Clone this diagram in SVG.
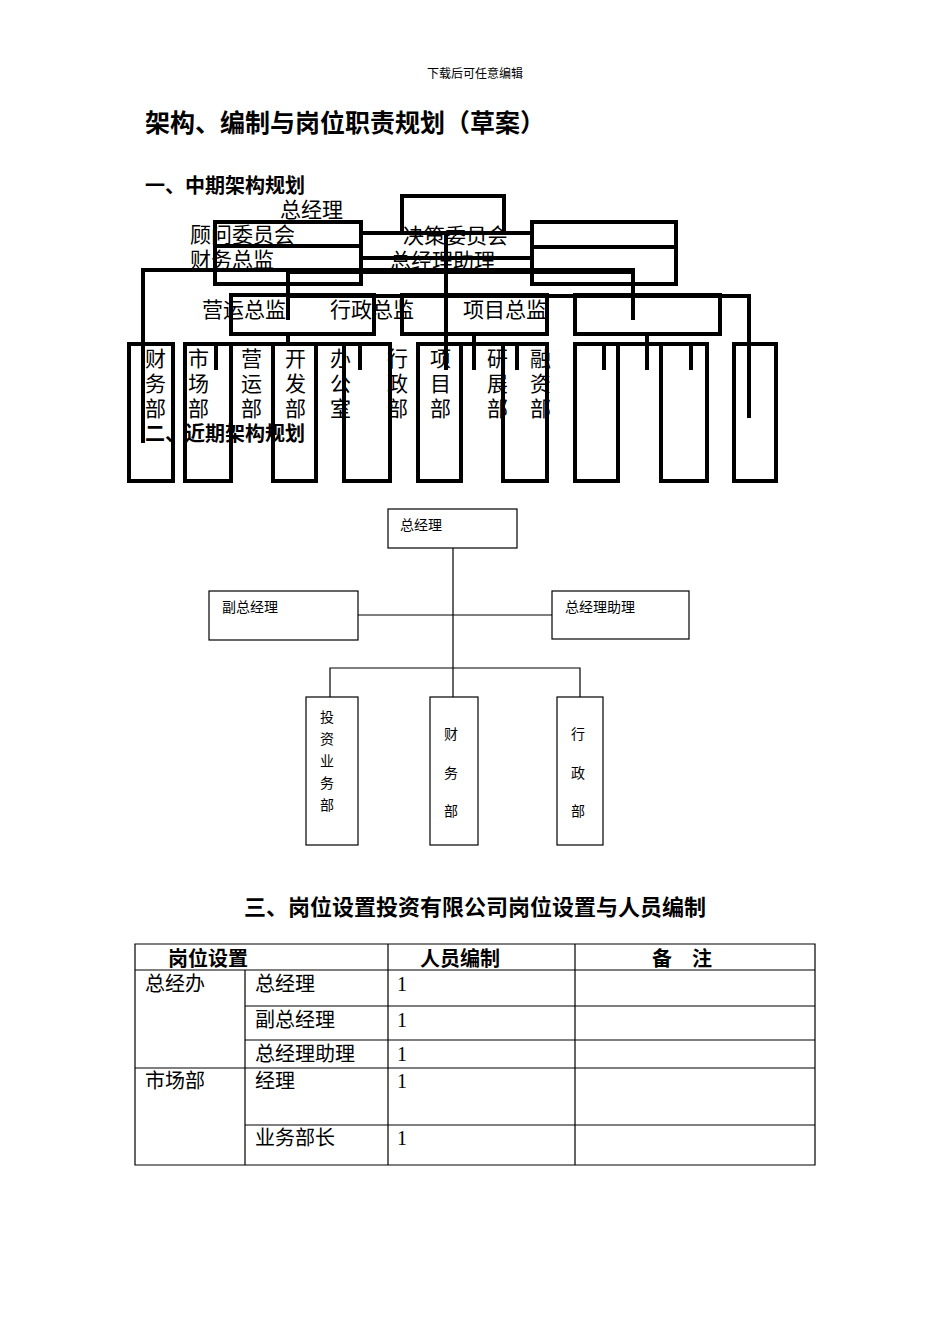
<svg xmlns="http://www.w3.org/2000/svg" width="950" height="1344" viewBox="0 0 950 1344">
<style>
text{font-family:"Liberation Serif","Noto Sans CJK SC",serif;fill:#000}
.b{font-weight:bold;font-family:"Liberation Sans","Noto Sans CJK SC",sans-serif}
.t{font-size:20px}
.m{font-size:21px}
.s{font-size:14px}
.k{fill:none;stroke:#000;stroke-width:4}
.n{fill:none;stroke:#000;stroke-width:1.2}
</style>
<rect width="950" height="1344" fill="#fff"/>
<text x="475" y="78" font-size="12" text-anchor="middle">下载后可任意编辑</text>
<text class="b" x="145" y="132" font-size="25">架构、编制与岗位职责规划（草案）</text>
<text class="b t" x="145" y="193">一、中期架构规划</text>
<g id="mid-connectors" class="k">
<path d="M361 233H532M361 258H532M446 233V370M143 443V270H633V320M288 320V272H633M288 296H749V418M288 334V346M474 334V370M647 334V370M185 344H390M418 344H547M575 344H707M216 344V370M360 344V370M517 344V370M604 344V370M691 344V370"/>
</g>
<g id="m-boxes" class="k">
<rect x="402" y="196" width="102" height="37"/>
<path d="M215 222H361V284H215ZM215 246H361"/>
<path d="M532 222H676V284H532ZM532 247H676"/>
<rect x="231" y="295" width="143" height="39"/>
<rect x="402" y="295" width="145" height="39"/>
<rect x="575" y="295" width="145" height="39"/>
<rect x="129" y="344" width="44" height="137"/>
<rect x="185" y="344" width="46" height="137"/>
<rect x="273" y="344" width="43" height="137"/>
<rect x="344" y="344" width="46" height="137"/>
<rect x="418" y="344" width="43" height="137"/>
<rect x="503" y="344" width="44" height="137"/>
<rect x="575" y="344" width="43" height="137"/>
<rect x="661" y="344" width="46" height="137"/>
<rect x="734" y="344" width="42" height="137"/>
</g>
<g id="m-labels" class="m">
<text x="280" y="217">总经理</text>
<text x="190" y="242">顾问委员会</text>
<text x="190" y="267">财务总监</text>
<text x="403" y="243">决策委员会</text>
<text x="390" y="268">总经理助理</text>
<text x="202" y="317">营运总监</text>
<text x="330" y="317">行政总监</text>
<text x="463" y="317">项目总监</text>
<text x="145" y="366">财</text><text x="145" y="391">务</text><text x="145" y="416">部</text>
<text x="188" y="366">市</text><text x="188" y="391">场</text><text x="188" y="416">部</text>
<text x="241" y="366">营</text><text x="241" y="391">运</text><text x="241" y="416">部</text>
<text x="285" y="366">开</text><text x="285" y="391">发</text><text x="285" y="416">部</text>
<text x="330" y="366">办</text><text x="330" y="391">公</text><text x="330" y="416">室</text>
<text x="387" y="366">行</text><text x="387" y="391">政</text><text x="387" y="416">部</text>
<text x="430" y="366">项</text><text x="430" y="391">目</text><text x="430" y="416">部</text>
<text x="487" y="366">研</text><text x="487" y="391">展</text><text x="487" y="416">部</text>
<text x="530" y="366">融</text><text x="530" y="391">资</text><text x="530" y="416">部</text>
</g>
<text class="b t" x="145" y="441">二、近期架构规划</text>
<g id="near-connectors" class="n">
<path d="M453 548V697M358 615H552M330 697V668H580V697"/>
</g>
<g id="n-gm"><rect class="n" x="388" y="509" width="129" height="39"/><text class="s" x="400" y="530">总经理</text></g>
<g id="n-vgm"><rect class="n" x="209" y="591" width="149" height="49"/><text class="s" x="222" y="612">副总经理</text></g>
<g id="n-asst"><rect class="n" x="552" y="591" width="137" height="48"/><text class="s" x="565" y="612">总经理助理</text></g>
<g id="n-inv"><rect class="n" x="306" y="697" width="52" height="148"/>
<text class="s" x="320" y="722">投</text><text class="s" x="320" y="744">资</text><text class="s" x="320" y="766">业</text><text class="s" x="320" y="788">务</text><text class="s" x="320" y="810">部</text></g>
<g id="n-fin"><rect class="n" x="430" y="697" width="48" height="148"/>
<text class="s" x="444" y="739">财</text><text class="s" x="444" y="778">务</text><text class="s" x="444" y="816">部</text></g>
<g id="n-adm"><rect class="n" x="557" y="697" width="46" height="148"/>
<text class="s" x="571" y="739">行</text><text class="s" x="571" y="778">政</text><text class="s" x="571" y="816">部</text></g>
<text class="b" x="475" y="915" font-size="22" text-anchor="middle">三、岗位设置投资有限公司岗位设置与人员编制</text>
<g id="table">
<path class="n" d="M135 944H815V1165H135ZM135 970H815M245 1006H815M245 1040H815M135 1068H815M245 1125H815M245 970V1165M388 944V1165M575 944V1165"/>
<g class="t">
<text class="b" x="168" y="966">岗位设置</text>
<text class="b" x="420" y="966">人员编制</text>
<text class="b" x="652" y="966">备　注</text>
<text x="145" y="991">总经办</text><text x="255" y="991">总经理</text><text x="397" y="991">1</text>
<text x="255" y="1027">副总经理</text><text x="397" y="1027">1</text>
<text x="255" y="1061">总经理助理</text><text x="397" y="1061">1</text>
<text x="145" y="1088">市场部</text><text x="255" y="1088">经理</text><text x="397" y="1088">1</text>
<text x="255" y="1145">业务部长</text><text x="397" y="1145">1</text>
</g>
</g>
</svg>
